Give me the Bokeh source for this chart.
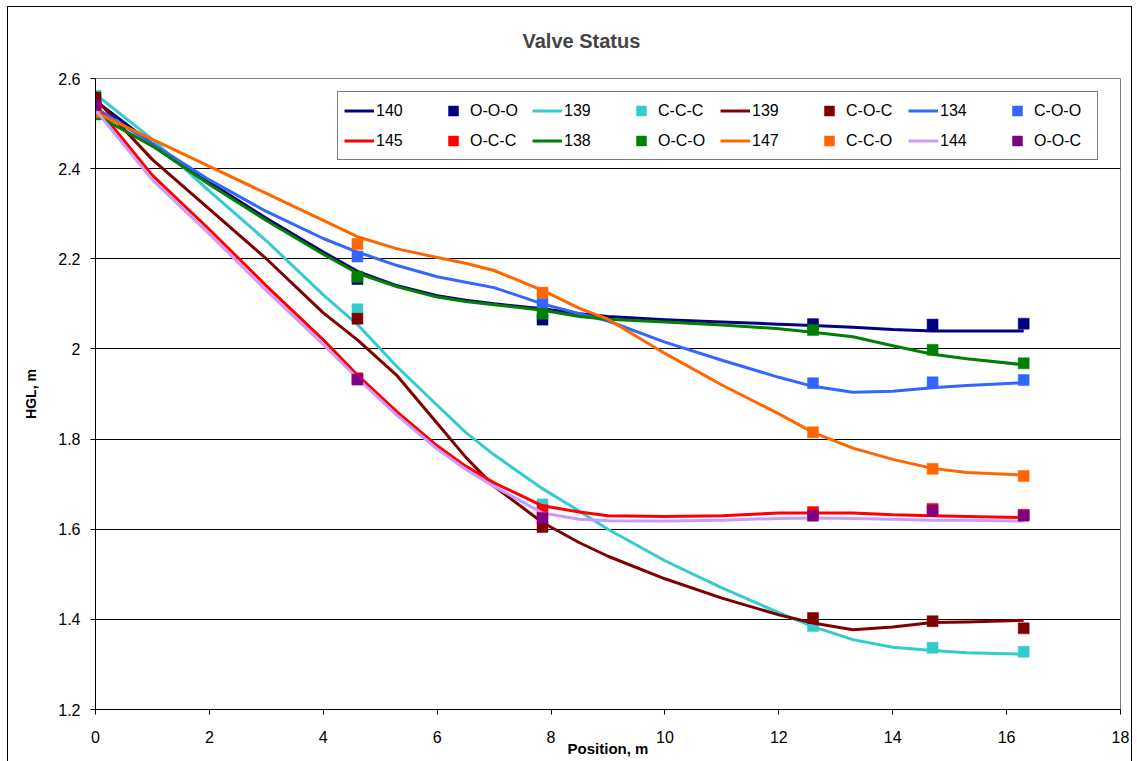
from bokeh.plotting import figure
from bokeh.models import Range1d, Legend, LegendItem, FixedTicker, InlineStyleSheet
from bokeh.embed import file_html
from bokeh.resources import INLINE

FONT = "Liberation Sans"

# ---- data -------------------------------------------------------------
line_x = [0, 1, 2, 3, 4, 4.6, 5.3, 6, 6.5, 7, 7.85, 8.5, 9, 10, 11, 12, 12.6, 13.3, 14, 14.7, 15.3, 16.3]

hgl_140 = [2.55, 2.455, 2.37, 2.29, 2.215, 2.172, 2.14, 2.118, 2.108, 2.1, 2.089, 2.078, 2.072, 2.065,
           2.06, 2.055, 2.052, 2.048, 2.043, 2.04, 2.04, 2.04]
hgl_139a = [2.565, 2.465, 2.35, 2.24, 2.12, 2.054, 1.96, 1.875, 1.815, 1.765, 1.69, 1.64, 1.6, 1.53,
            1.47, 1.415, 1.384, 1.355, 1.338, 1.331, 1.326, 1.323]
hgl_139b = [2.555, 2.42, 2.31, 2.2, 2.08, 2.02, 1.94, 1.835, 1.76, 1.695, 1.615, 1.57, 1.54, 1.49,
            1.447, 1.41, 1.392, 1.377, 1.383, 1.393, 1.394, 1.398]
hgl_134 = [2.535, 2.455, 2.375, 2.305, 2.245, 2.215, 2.185, 2.16, 2.148, 2.136, 2.1, 2.078, 2.062, 2.015,
           1.975, 1.937, 1.917, 1.904, 1.906, 1.914, 1.919, 1.925]
hgl_145 = [2.54, 2.385, 2.265, 2.14, 2.02, 1.942, 1.86, 1.785, 1.74, 1.703, 1.652, 1.638, 1.63, 1.628,
           1.63, 1.636, 1.636, 1.636, 1.632, 1.63, 1.628, 1.626]
hgl_138 = [2.52, 2.45, 2.365, 2.285, 2.21, 2.168, 2.138, 2.115, 2.105, 2.098, 2.086, 2.072, 2.066, 2.06,
           2.053, 2.045, 2.037, 2.027, 2.007, 1.988, 1.978, 1.965]
hgl_147 = [2.525, 2.465, 2.405, 2.345, 2.285, 2.249, 2.222, 2.203, 2.19, 2.174, 2.13, 2.09, 2.066, 1.99,
           1.92, 1.856, 1.815, 1.78, 1.755, 1.735, 1.726, 1.72]
hgl_144 = [2.53, 2.375, 2.255, 2.13, 2.01, 1.935, 1.852, 1.778, 1.733, 1.695, 1.636, 1.622, 1.619, 1.618,
           1.62, 1.624, 1.625, 1.624, 1.622, 1.62, 1.62, 1.618]

marker_x = [0, 4.6, 7.85, 12.6, 14.7, 16.3]
m_ooo = [2.55, 2.155, 2.065, 2.055, 2.054, 2.056]
m_ccc = [2.562, 2.088, 1.655, 1.385, 1.337, 1.328]
m_coc = [2.558, 2.067, 1.605, 1.403, 1.396, 1.38]
m_coo = [2.53, 2.205, 2.10, 1.924, 1.926, 1.931]
m_occ = [2.54, 1.935, 1.642, 1.638, 1.645, 1.632]
m_oco = [2.52, 2.16, 2.078, 2.042, 1.998, 1.968]
m_cco = [2.525, 2.233, 2.125, 1.815, 1.734, 1.718]
m_ooc = [2.541, 1.932, 1.625, 1.63, 1.641, 1.63]

line_labels = ["140", "139", "139", "134", "145", "138", "147", "144"]
marker_labels = ["O-O-O", "C-C-C", "C-O-C", "C-O-O", "O-C-C", "O-C-O", "C-C-O", "O-O-C"]
line_colors = ["#000080", "#33CCCC", "#800000", "#3366FF", "#FF0000", "#008000", "#FF6600", "#CC99FF"]
marker_colors = ["#000080", "#33CCCC", "#800000", "#3366FF", "#FF0000", "#008000", "#FF6600", "#800080"]
line_values = [hgl_140, hgl_139a, hgl_139b, hgl_134, hgl_145, hgl_138, hgl_147, hgl_144]
marker_values = [m_ooo, m_ccc, m_coc, m_coo, m_occ, m_oco, m_cco, m_ooc]

x_ticks = [0, 2, 4, 6, 8, 10, 12, 14, 16, 18]
y_ticks = [1.2, 1.4, 1.6, 1.8, 2.0, 2.2, 2.4, 2.6]
y_tick_labels = ["1.2", "1.4", "1.6", "1.8", "2", "2.2", "2.4", "2.6"]

# ---- figure -----------------------------------------------------------
chart_border = InlineStyleSheet(css="""
:host { position: relative; }
:host::after {
  content: ""; position: absolute; left: 7px; top: 6px; right: 5px; bottom: 0px;
  border-style: solid; border-color: #000; border-width: 1px 1px 0 1px;
  pointer-events: none;
}
""")

p = figure(width=1137, height=761, output_backend="svg", toolbar_location=None,
           x_range=Range1d(0, 18), y_range=Range1d(1.2, 2.6),
           min_border_left=95, min_border_right=17, min_border_top=76, min_border_bottom=52,
           background_fill_color="white", border_fill_color="white")
p.stylesheets = [chart_border]

p.title.text = "Valve Status"
p.title.text_font = FONT
p.title.text_font_size = "20px"
p.title.text_font_style = "bold"
p.title.align = "left"
p.title.offset = 427
p.title.standoff = 54

p.outline_line_color = "#808080"
p.outline_line_width = 1

p.xgrid.visible = False
p.ygrid.grid_line_color = "black"
p.ygrid.grid_line_width = 1

for ax in (p.xaxis[0], p.yaxis[0]):
    ax.axis_line_color = "black"
    ax.major_tick_line_color = "black"
    ax.major_tick_out = 5
    ax.major_tick_in = 0
    ax.minor_tick_line_color = None
    ax.major_label_text_font = FONT
    ax.major_label_text_font_size = "16px"
    ax.major_label_text_color = "black"
    ax.axis_label_text_font = FONT
    ax.axis_label_text_font_style = "bold"
    ax.axis_label_text_color = "black"

p.xaxis.ticker = FixedTicker(ticks=x_ticks)
p.yaxis.ticker = FixedTicker(ticks=y_ticks)
p.yaxis.major_label_overrides = dict(zip(y_ticks, y_tick_labels))

p.xaxis.axis_label = "Position, m"
p.xaxis.axis_label_text_font_size = "15px"
p.xaxis.major_label_standoff = 16
p.xaxis.axis_label_standoff = -6

p.yaxis.axis_label = "HGL, m"
p.yaxis.axis_label_text_font_size = "14px"
p.yaxis.major_label_standoff = 10
p.yaxis.axis_label_standoff = 16

items = []
for lab, mlab, lc, mc, lv, mv in zip(line_labels, marker_labels, line_colors, marker_colors,
                                     line_values, marker_values):
    r_line = p.line(line_x, lv, line_color=lc, line_width=3, line_join="round")
    r_mark = p.scatter(marker_x, mv, marker="square", size=11, fill_color=mc, line_color=mc,
                       line_width=0.5)
    items.append(LegendItem(label=lab, renderers=[r_line]))
    items.append(LegendItem(label=mlab, renderers=[r_mark]))

legend = Legend(items=items, location=(242, 549), orientation="horizontal", ncols=8, nrows=2,
                glyph_width=30, glyph_height=25, label_width=57, label_height=20,
                label_standoff=2, spacing=5, padding=6, margin=0,
                label_text_font=FONT, label_text_font_size="16px", label_text_color="black",
                border_line_color="black", border_line_width=1, background_fill_color="white",
                background_fill_alpha=1.0)
p.add_layout(legend)

open("out.html", "w").write(file_html(p, INLINE))
